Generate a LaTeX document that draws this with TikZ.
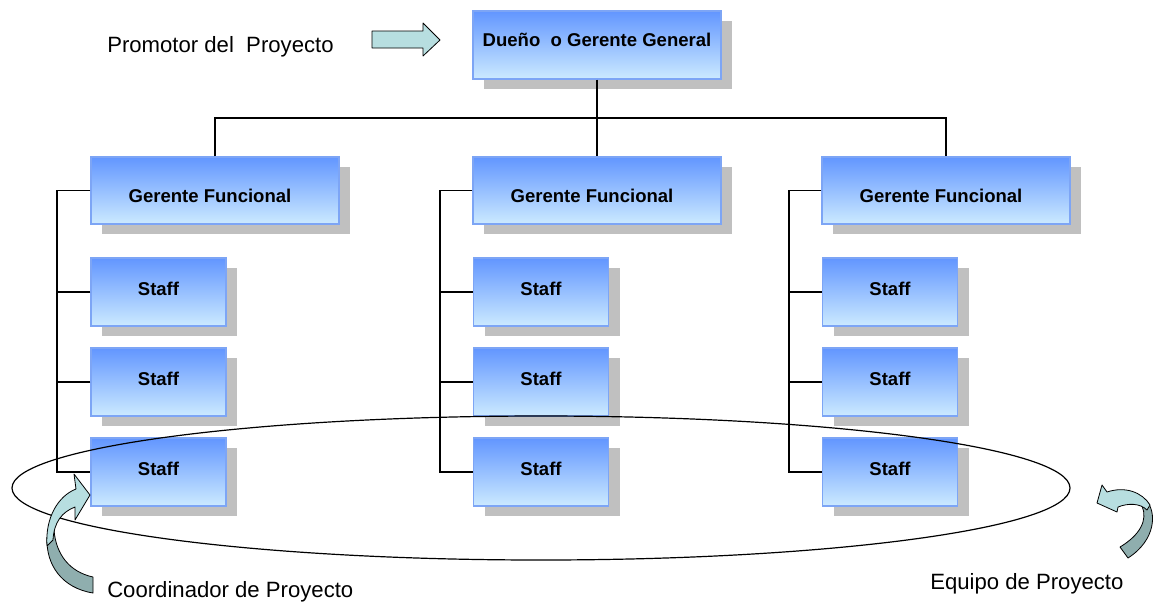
\documentclass[tikz,border=0pt]{standalone}
\usepackage{fontspec}
\setmainfont{Liberation Sans}
\usetikzlibrary{shadows}

\definecolor{boxtop}{RGB}{98,150,255}
\definecolor{boxbot}{RGB}{204,234,255}
\definecolor{boxline}{RGB}{125,165,245}
\definecolor{shadowgray}{RGB}{192,192,192}
\definecolor{arrowlight}{RGB}{183,222,224}
\definecolor{arrowdark}{RGB}{143,174,174}

\tikzset{
  orgbox/.style={draw=boxline, line width=0.9pt, top color=boxtop, bottom color=boxbot,
    inner sep=0pt, align=center,
    font=\fontsize{13.9}{16}\selectfont\bfseries,
    drop shadow={shadow xshift=8.25pt, shadow yshift=-7.5pt, fill=shadowgray, opacity=1}},
  headbox/.style={orgbox, minimum width=186pt, minimum height=51pt,
    text height=5pt, text depth=2.6pt},
  managerbox/.style={orgbox, minimum width=186pt, minimum height=50.25pt,
    text height=18.2pt, text depth=0pt},
  staffbox/.style={orgbox, minimum width=101.25pt, minimum height=51pt,
    text height=8pt, text depth=2.5pt},
  link/.style={draw=black, line width=0.9pt},
  caption/.style={anchor=base west, inner sep=0pt, font=\fontsize{16.6}{19}\selectfont},
  blockarrow/.style={draw=black, line width=0.6pt, line join=round},
}

\begin{document}
\begin{tikzpicture}[x=0.75pt, y=-0.75pt]
\useasboundingbox (0,0) rectangle (1155,601);

% owner / general manager
\node[headbox] (top) at (597,45) {Dueño\ \ o Gerente General};

% functional managers
\node[managerbox] (g1) at (215,190.5) {Gerente Funcional\hspace*{7.5pt}};
\node[managerbox] (g2) at (597,190.5) {Gerente Funcional\hspace*{7.5pt}};
\node[managerbox] (g3) at (946,190.5) {Gerente Funcional\hspace*{7.5pt}};

% staff columns
\foreach \c/\x in {1/158.5, 2/541, 3/890}{
  \node[staffbox] (s\c1) at (\x,292) {Staff};
  \node[staffbox] (s\c2) at (\x,382) {Staff};
  \node[staffbox] (s\c3) at (\x,472) {Staff};
}

% connectors from the top box to the managers
\coordinate (bus) at (597,118);
\draw[link] (top.south) -- (bus);
\draw[link] (g1.north) |- (bus) -| (g3.north);
\draw[link] (bus) -- (g2.north);

% connectors from each manager to its staff
\coordinate (b1) at (57,190.5);
\coordinate (b2) at (440,190.5);
\coordinate (b3) at (789,190.5);
\foreach \c in {1,2,3}{
  \draw[link] (g\c.west) -- (b\c) |- (s\c3.west);
  \draw[link] (s\c1.west) -- (s\c1.west -| b\c);
  \draw[link] (s\c2.west) -- (s\c2.west -| b\c);
}

% project team ellipse
\draw[line width=0.9pt] (541,488) ellipse [x radius=529, y radius=72];

% straight arrow towards the top box
\draw[blockarrow, fill=arrowlight]
  (372,31) -- (423,31) -- (423,23) -- (440,40) -- (423,56) -- (423,48) -- (372,48) -- cycle;

% curled arrow towards the coordinator
\draw[blockarrow, fill=arrowdark]
  (93,593) .. controls (62,588) and (46,565) .. (47,538) -- (54,530)
  .. controls (56,555) and (70,572) .. (93,577) -- cycle;
\draw[blockarrow, fill=arrowlight]
  (47,546) .. controls (45,518) and (58,496) .. (76,489) -- (74,474) -- (90,495)
  -- (75,520) -- (75,507) .. controls (62,512) and (54,522) .. (53,540) -- cycle;

% curled arrow towards the team ellipse
\draw[blockarrow, fill=arrowdark]
  (1146,500) .. controls (1157,512) and (1156,540) .. (1128,558) -- (1120,547)
  .. controls (1140,535) and (1148,520) .. (1142,506) -- cycle;
\draw[blockarrow, fill=arrowlight]
  (1117,512) -- (1097,503) -- (1102,485) -- (1107,492)
  .. controls (1125,486) and (1142,492) .. (1150,505) -- (1147,510)
  .. controls (1140,503) and (1128,503) .. (1118,507) -- cycle;

% captions
\node[caption] (promotor) at (107,52) {Promotor del\ \ Proyecto};
\node[caption] (coord) at (107,597) {Coordinador de Proyecto};
\node[caption] (equipo) at (930,589) {Equipo de Proyecto};
\end{tikzpicture}
\end{document}
